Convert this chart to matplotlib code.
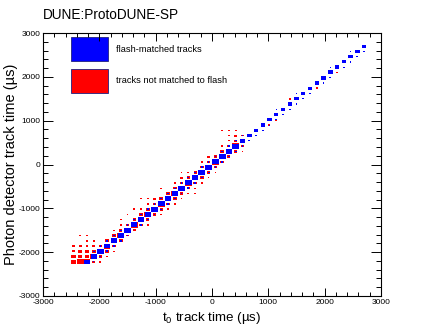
import matplotlib.pyplot as plt
from matplotlib.patches import Rectangle
from matplotlib.ticker import MultipleLocator

plt.rcParams['font.family'] = ['Liberation Sans', 'DejaVu Sans']
plt.rcParams['mathtext.fontset'] = 'custom'
plt.rcParams['mathtext.rm'] = 'Liberation Sans'
plt.rcParams['axes.unicode_minus'] = False

# 50 x 50 bins from -3000 to 3000 us
bin_width = 120

# tracks not matched to flash: bin centres (us) and bin contents
red_t0 = [-2460, -2340, -2220, -2100, -1980,
          -2460, -2340, -2220, -2100, -1980, -1860,
          -2460, -2340, -2220, -2100, -1980, -1860, -1740,
          -2460, -2340, -2220, -2100, -1980, -1860, -1740,
          -2220, -2100, -1860, -1740, -1620,
          -2340, -2220, -1740, -1620, -1500,
          -1740, -1620, -1500, -1380,
          -1620, -1500, -1380, -1260, -1140,
          -1620, -1380, -1260, -1140,
          -1500, -1260, -1140, -1020, -900,
          -1380, -1260, -1140, -1020, -900, -780,
          -1140, -1020, -900, -780, -660,
          -1260, -1140, -1020, -900, -780, -660, -540,
          -780, -660, -540, -420, -300,
          -900, -660, -540, -420, -300,
          -660, -540, -420, -300, -180,
          -540, -420, -300, -180, -60,
          -540, -420, -300, -180, -60, 60,
          -180, -60, 60,
          -180, -60, 60, 180,
          -60, 60, 180, 300,
          180, 300, 420, 540,
          180, 300, 420, 540,
          300, 420, 540, 660,
          300, 420, 540, 780,
          180, 300, 420,
          1020, 1140, 1260, 1380, 1860, 2220, 2700]
red_pd = [-2220] * 5 + [-2100] * 6 + [-1980] * 7 + [-1860] * 7 + \
         [-1740] * 5 + [-1620] * 5 + [-1500] * 4 + [-1380] * 5 + \
         [-1260] * 4 + [-1140] * 5 + [-1020] * 6 + [-900] * 5 + \
         [-780] * 7 + [-660] * 5 + [-540] * 5 + [-420] * 5 + \
         [-300] * 5 + [-180] * 6 + [-60] * 3 + [60] * 4 + \
         [180] * 4 + [300] * 4 + [420] * 4 + [540] * 4 + \
         [660] * 4 + [780] * 3 + \
         [900, 1020, 1140, 1500, 1740, 2100, 2580]
red_n = [17, 20, 19, 8, 6,
         13, 13, 14, 20, 10, 5,
         9, 10, 10, 11, 20, 11, 5,
         8, 9, 8, 8, 11, 19, 10,
         7, 7, 11, 20, 11,
         5, 5, 10, 20, 7,
         5, 10, 20, 9,
         6, 9, 20, 10, 5,
         5, 10, 20, 10,
         5, 10, 20, 10, 6,
         7, 8, 11, 20, 10, 7,
         6, 10, 20, 10, 5,
         5, 6, 7, 11, 20, 10, 5,
         10, 20, 10, 6, 6,
         5, 10, 20, 10, 5,
         7, 10, 20, 10, 5,
         8, 10, 20, 10, 5,
         5, 5, 9, 20, 10, 5,
         10, 20, 10,
         5, 9, 20, 10,
         8, 9, 20, 9,
         10, 19, 10, 5,
         5, 9, 20, 7,
         5, 9, 13, 5,
         5, 8, 7, 6,
         5, 5, 6,
         6, 6, 6, 6, 6, 7, 5]

# flash-matched tracks: diagonal bins (t0 == photon detector time)
diag_t0 = [-2220, -2100, -1980, -1860, -1740, -1620, -1500, -1380, -1260,
           -1140, -1020, -900, -780, -660, -540, -420, -300, -180, -60,
           60, 180, 300, 420, 540, 660, 780, 900, 1020, 1140, 1260, 1380,
           1500, 1620, 1740, 1860, 1980, 2100, 2220, 2340, 2460, 2580, 2700]
diag_n = [16, 18, 18, 18, 19, 19, 19, 19, 19,
          19, 19, 19, 19, 19, 19, 19, 19, 20, 19,
          19, 20, 18, 19, 15, 14, 10, 13, 13, 12, 11, 13,
          12, 13, 12, 13, 14, 15, 13, 11, 13, 14, 12]

# flash-matched tracks off the diagonal
off_t0 = [-2100, -1980, -2100, -1860, -1980, -1740, -1860, -1620, -1740, -1500,
          -1620, -1500, -1260, -1380, -1140, -1260, -1020, -1140, -900,
          -1020, -780, -900, -660, -780, -540, -660, -420, -540, -300,
          -420, -180, -300, -60, -180, 60, -60, 180, 60, 300, 180, 420,
          300, 540, 420, 660, 540, 780,
          900, 1020, 1140, 1260, 1380, 1500, 1620, 1740, 1980, 2100, 2100,
          2340, 2460, 2460, 2580, 2700, 1140, 1500]
off_pd = [-2220, -2100, -1980, -1980, -1860, -1860, -1740, -1740, -1620, -1620,
          -1500, -1380, -1380, -1260, -1260, -1140, -1140, -1020, -1020,
          -900, -900, -780, -780, -660, -660, -540, -540, -420, -420,
          -300, -300, -180, -180, -60, -60, 60, 60, 180, 180, 300, 300,
          420, 420, 540, 540, 660, 660,
          780, 900, 1020, 1140, 1260, 1380, 1500, 1620, 1860, 1980, 2220,
          2220, 2340, 2580, 2460, 2580, 1260, 1620]
off_n = [4, 6, 5, 7, 5, 5, 6, 6, 6, 4,
         5, 5, 5, 5, 5, 5, 4, 6, 5,
         5, 5, 6, 5, 5, 5, 5, 6, 5, 5,
         5, 6, 5, 6, 5, 5, 5, 5, 5, 6, 5, 6,
         5, 5, 5, 5, 4, 4,
         5, 4, 5, 4, 5, 4, 5, 5, 5, 5, 4,
         5, 5, 4, 5, 4, 4, 4]

blue_t0 = diag_t0 + off_t0
blue_pd = diag_t0 + off_pd
blue_n = diag_n + off_n

fig = plt.figure(figsize=(4.24, 3.27), dpi=100)
ax = fig.add_axes([43 / 424, 1 - 296 / 327, 338 / 424, 263 / 327])


def draw_boxes(t0, pd, counts, color):
    # box side proportional to the bin content, like ROOT's "BOX" option
    cmax = max(counts)
    for x, y, n in zip(t0, pd, counts):
        side = bin_width * n / cmax
        ax.add_patch(Rectangle((x - side / 2, y - side / 2), side, side,
                               facecolor=color, edgecolor='none', lw=0))


draw_boxes(red_t0, red_pd, red_n, '#ff0000')
draw_boxes(blue_t0, blue_pd, blue_n, '#0000ff')

ax.set_xlim(-3000, 3000)
ax.set_ylim(-3000, 3000)
ax.xaxis.set_major_locator(MultipleLocator(1000))
ax.yaxis.set_major_locator(MultipleLocator(1000))
ax.xaxis.set_minor_locator(MultipleLocator(200))
ax.yaxis.set_minor_locator(MultipleLocator(200))
ax.tick_params(which='both', direction='in', top=True, right=True,
               width=0.7, labelsize=6.0, pad=2)
ax.tick_params(axis='x', which='major', length=5.8)
ax.tick_params(axis='x', which='minor', length=2.9)
ax.tick_params(axis='y', which='major', length=7.2)
ax.tick_params(axis='y', which='minor', length=3.6)
for s in ax.spines.values():
    s.set_linewidth(0.8)

ax.set_xlabel(r'$\mathrm{t_{0}}$ track time (µs)', fontsize=9.6)
ax.set_ylabel('Photon detector track time (µs)', fontsize=10.5)
ax.xaxis.set_label_coords(0.5, -0.052)
ax.yaxis.set_label_coords(-0.075, 0.5)

fig.text(43 / 424, 1 - 19 / 327, 'DUNE:ProtoDUNE-SP', fontsize=9.8,
         ha='left', va='baseline')

# legend
ax.add_patch(Rectangle((0.0828, 0.8935), 0.1095, 0.0913, transform=ax.transAxes,
                       facecolor='#0000ff', edgecolor='#202080', lw=0.6))
ax.add_patch(Rectangle((0.0828, 0.7719), 0.1095, 0.0913, transform=ax.transAxes,
                       facecolor='#ff0000', edgecolor='#202080', lw=0.6))
ax.text(0.216, 0.939, 'flash-matched tracks', transform=ax.transAxes,
        fontsize=6.7, va='center', ha='left')
ax.text(0.216, 0.821, 'tracks not matched to flash', transform=ax.transAxes,
        fontsize=6.7, va='center', ha='left')

fig.savefig('out.png', dpi=100)
